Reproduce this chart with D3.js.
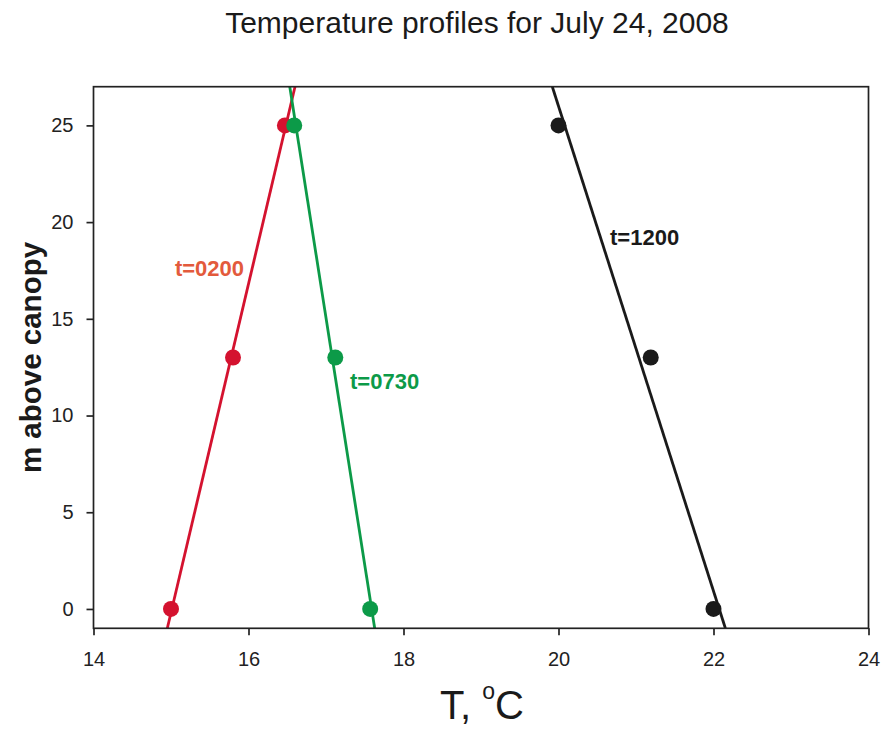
<!DOCTYPE html>
<html>
<head>
<meta charset="utf-8">
<script src="https://cdn.jsdelivr.net/npm/d3@7"></script>
<style>
  body { margin: 0; background: #fff; }
  svg { display: block; font-family: "Liberation Sans", Arial, sans-serif; }
</style>
</head>
<body>
<svg id="chart" width="882" height="729"></svg>
<script>
// Heights above canopy (m) at which temperature was sampled
const heights = [0, 13, 25];
// Temperature (°C) at each height, by time of day
const temps0200 = [15.0, 15.8, 16.47];
const temps0730 = [17.57, 17.12, 16.59];
const temps1200 = [22.0, 21.19, 20.0];
const seriesNames = ["t=0200", "t=0730", "t=1200"];
const xTicks = [14, 16, 18, 20, 22, 24];
const yTicks = [0, 5, 10, 15, 20, 25];

const series = [
  { name: seriesNames[0], temps: temps0200, color: "#d4122f", labelColor: "#e35a3c", labelAt: { t: 15.05, z: 17.2 } },
  { name: seriesNames[1], temps: temps0730, color: "#0c9a48", labelColor: "#0c9a48", labelAt: { t: 17.31, z: 11.37 } },
  { name: seriesNames[2], temps: temps1200, color: "#1a1a1a", labelColor: "#1a1a1a", labelAt: { t: 20.665, z: 18.8 } }
];

const svg = d3.select("#chart");
const W = 882, H = 729;
const margin = { left: 93.5, right: W - 868.5, top: 86.7, bottom: H - 628.3 };

const x = d3.scaleLinear().domain([14, 24]).range([margin.left, W - margin.right]);
const y = d3.scaleLinear().domain([-1, 27]).range([H - margin.bottom, margin.top]);

// least-squares fit of temperature against height
function fit(zs, ts) {
  const mz = d3.mean(zs), mt = d3.mean(ts);
  let sxy = 0, sxx = 0;
  zs.forEach((z, i) => { sxy += (z - mz) * (ts[i] - mt); sxx += (z - mz) ** 2; });
  const b = sxy / sxx;
  return z => mt + b * (z - mz);
}

svg.append("defs").append("clipPath").attr("id", "plot-clip")
  .append("rect")
  .attr("x", x(14)).attr("y", y(27))
  .attr("width", x(24) - x(14)).attr("height", y(-1) - y(27));

const plot = svg.append("g").attr("clip-path", "url(#plot-clip)");

series.forEach(s => {
  const f = fit(heights, s.temps);
  plot.append("line")
    .attr("x1", x(f(-1))).attr("y1", y(-1))
    .attr("x2", x(f(27))).attr("y2", y(27))
    .attr("stroke", s.color).attr("stroke-width", 2.8);
});

series.forEach(s => {
  svg.append("g").selectAll("circle")
    .data(heights.map((z, i) => ({ z, t: s.temps[i] })))
    .join("circle")
    .attr("cx", d => x(d.t)).attr("cy", d => y(d.z))
    .attr("r", 8)
    .attr("fill", s.color);
});

series.forEach(s => {
  svg.append("text")
    .attr("x", x(s.labelAt.t)).attr("y", y(s.labelAt.z))
    .attr("fill", s.labelColor)
    .attr("font-weight", "bold")
    .style("font-size", "22px")
    .text(s.name);
});

// frame
svg.append("rect")
  .attr("x", x(14)).attr("y", y(27))
  .attr("width", x(24) - x(14)).attr("height", y(-1) - y(27))
  .attr("fill", "none").attr("stroke", "#222").attr("stroke-width", 1.7);

const xAxis = svg.append("g")
  .attr("transform", `translate(0,${y(-1)})`)
  .call(d3.axisBottom(x).tickValues(xTicks).tickSize(7).tickPadding(17).tickFormat(d3.format("d")));
const yAxis = svg.append("g")
  .attr("transform", `translate(${x(14)},0)`)
  .call(d3.axisLeft(y).tickValues(yTicks).tickSize(7).tickPadding(13).tickFormat(d3.format("d")));

[xAxis, yAxis].forEach(a => {
  a.select(".domain").remove();
  a.selectAll(".tick line").attr("stroke", "#222").attr("stroke-width", 1.7);
  a.selectAll(".tick text").attr("fill", "#222")
    .style("font-size", "20px")
    .style("font-family", "'Liberation Sans', Arial, sans-serif");
});

// title
svg.append("text")
  .attr("x", 477).attr("y", 33)
  .attr("text-anchor", "middle")
  .style("font-size", "30px")
  .attr("fill", "#1a1a1a")
  .text("Temperature profiles for July 24, 2008");

// y label
svg.append("text")
  .attr("transform", `translate(41,${(y(27) + y(-1)) / 2}) rotate(-90)`)
  .attr("text-anchor", "middle")
  .style("font-size", "29.5px")
  .attr("font-weight", "bold")
  .attr("fill", "#1a1a1a")
  .text("m above canopy");

// x label
const xl = svg.append("text")
  .attr("x", 482).attr("y", 719)
  .attr("text-anchor", "middle")
  .style("font-size", "40px")
  .attr("fill", "#1a1a1a");
xl.append("tspan").text("T, ");
xl.append("tspan").style("font-size", "23px").attr("dy", -20).text("o");
xl.append("tspan").attr("dy", 20).text("C");
</script>
</body>
</html>
